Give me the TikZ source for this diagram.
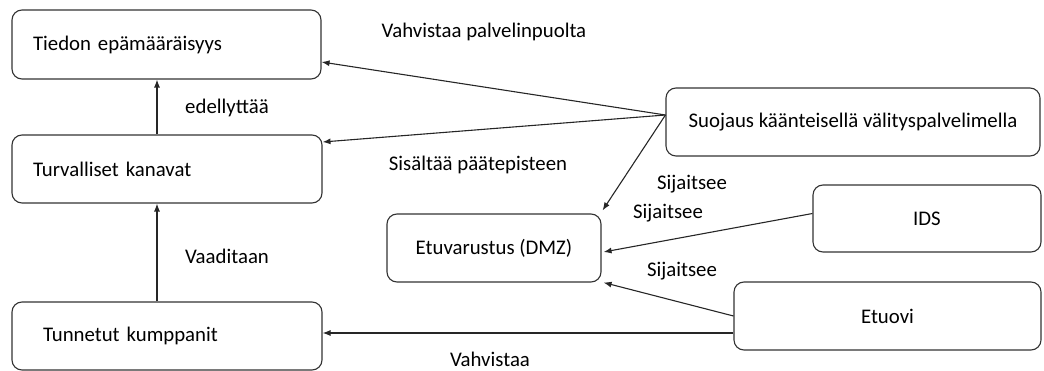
\documentclass[tikz,border=0pt]{standalone}
\usepackage{fontspec}
\setmainfont{Carlito}
\usetikzlibrary{arrows.meta}
\begin{document}
\begin{tikzpicture}[x=1pt,y=-1pt,
  box/.style={draw=black!80, line width=1.1pt, rounded corners=10pt,
    inner sep=0pt, font=\fontsize{20.8}{24}\selectfont},
  leftbox/.style={box, align=left},
  lbl/.style={font=\fontsize{20.8}{24}\selectfont, inner sep=0pt},
  link/.style={draw=black!85, line width=1.1pt, -{Latex[length=8pt,width=6pt]}}]
\useasboundingbox (0,0) rectangle (1044,371);

% left column
\node[leftbox, minimum width=309pt, minimum height=69pt, text width=267pt] (tiedon) at (166.5,44.5) {Tiedon epämääräisyys};
\node[leftbox, minimum width=310pt, minimum height=68pt, text width=268pt] (turva) at (167,169) {Turvalliset kanavat};
\node[leftbox, minimum width=310pt, minimum height=68pt, text width=248pt] (tunnetut) at (167,336) {Tunnetut kumppanit};

% middle and right
\node[box, minimum width=214pt, minimum height=68pt] (dmz) at (494,248) {Etuvarustus (DMZ)};
\node[box, minimum width=374pt, minimum height=68pt] (suojaus) at (853,122) {Suojaus käänteisellä välityspalvelimella};
\node[box, minimum width=228pt, minimum height=67pt] (ids) at (927,218.5) {IDS};
\node[box, minimum width=307pt, minimum height=68pt] (etuovi) at (887.5,316) {Etuovi};

% connectors
\draw[link] (turva.north -| 157,0) -- (tiedon.south -| 157,0);
\draw[link] (tunnetut.north -| 157,0) -- (turva.south -| 157,0);
\draw[link] ([yshift=7pt]suojaus.west) -- ([yshift=-17.5pt]tiedon.east);
\draw[link] ([yshift=7pt]suojaus.west) -- ([yshift=27pt]turva.east);
\draw[link] ([yshift=7pt]suojaus.west) -- ([xshift=1pt,yshift=3pt]dmz.north east);
\draw[link] ([yshift=5pt]ids.west) -- ([xshift=2pt,yshift=-4pt]dmz.east);
\draw[link] (etuovi.west) -- ([xshift=2pt]dmz.south east);
\draw[link] ([yshift=-17pt]etuovi.west) -- ([yshift=3pt]tunnetut.east);

% connector labels
\node[lbl] (l1) at (227,108) {edellyttää};
\node[lbl] (l2) at (227,256) {Vaaditaan};
\node[lbl] (l3) at (484,32) {Vahvistaa palvelinpuolta};
\node[lbl] (l4) at (478,165) {Sisältää päätepisteen};
\node[lbl] (l5) at (692,184) {Sijaitsee};
\node[lbl] (l6) at (668,213) {Sijaitsee};
\node[lbl] (l7) at (682,271) {Sijaitsee};
\node[lbl] (l8) at (490,359) {Vahvistaa};
\end{tikzpicture}
\end{document}
